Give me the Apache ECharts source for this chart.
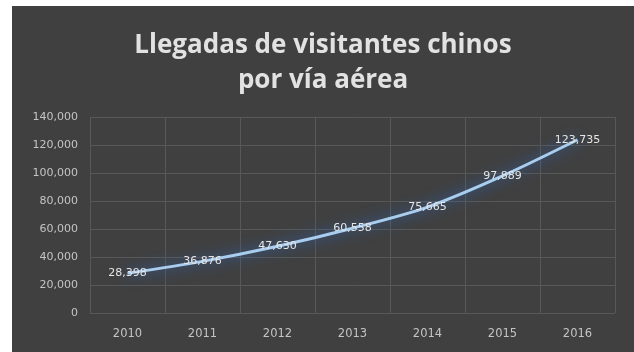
<!DOCTYPE html>
<html>
<head>
<meta charset="utf-8">
<script src="https://cdn.jsdelivr.net/npm/echarts@6/dist/echarts.min.js"></script>
<style>
  html, body { margin: 0; padding: 0; background: #ffffff; }
  #chart { position: absolute; left: 12px; top: 6px; width: 622px; height: 346px; }
</style>
</head>
<body>
<div id="chart"></div>
<script>
// Years and air arrivals of Chinese visitors
const years = ['2010', '2011', '2012', '2013', '2014', '2015', '2016'];
const arrivals = [28398, 36876, 47630, 60558, 75665, 97889, 123735];
const yTicks = [0, 20000, 40000, 60000, 80000, 100000, 120000, 140000];

const fmt = v => Number(v).toLocaleString('en-US');

const chart = echarts.init(document.getElementById('chart'));
chart.setOption({
  backgroundColor: '#404040',
  animation: false,
  title: {
    text: 'Llegadas de visitantes chinos\npor vía aérea',
    left: 'center',
    top: 17,
    textStyle: {
      color: '#e2e2e2',
      fontFamily: 'Open Sans',
      fontWeight: 'bold',
      fontSize: 26,
      lineHeight: 35
    }
  },
  grid: { left: 78, right: 19, top: 111, bottom: 39 },
  xAxis: {
    type: 'category',
    data: years,
    boundaryGap: true,
    axisLine: { show: false },
    axisTick: { show: false },
    axisLabel: { color: '#c4c4c4', fontSize: 11.5, fontFamily: 'DejaVu Sans', margin: 15 },
    splitLine: { show: true, lineStyle: { color: '#585858', width: 1 } }
  },
  yAxis: {
    type: 'value',
    min: yTicks[0],
    max: yTicks[yTicks.length - 1],
    interval: yTicks[1] - yTicks[0],
    axisLine: { show: false },
    axisTick: { show: false },
    axisLabel: {
      color: '#c4c4c4', fontSize: 11, fontFamily: 'DejaVu Sans', margin: 12,
      formatter: v => fmt(v)
    },
    splitLine: { lineStyle: { color: '#585858', width: 1 } }
  },
  series: [{
    type: 'line',
    data: arrivals,
    smooth: 0.3,
    symbol: 'circle',
    symbolSize: 1,
    showSymbol: true,
    itemStyle: { color: 'transparent', borderWidth: 0 },
    lineStyle: {
      color: '#a9cdef',
      width: 3,
      shadowColor: 'rgba(40,110,215,0.95)',
      shadowBlur: 14
    },
    label: {
      show: true,
      position: 'inside',
      color: '#e6e6e6',
      fontSize: 11,
      fontFamily: 'DejaVu Sans',
      formatter: p => fmt(p.value)
    }
  }]
});
</script>
</body>
</html>
